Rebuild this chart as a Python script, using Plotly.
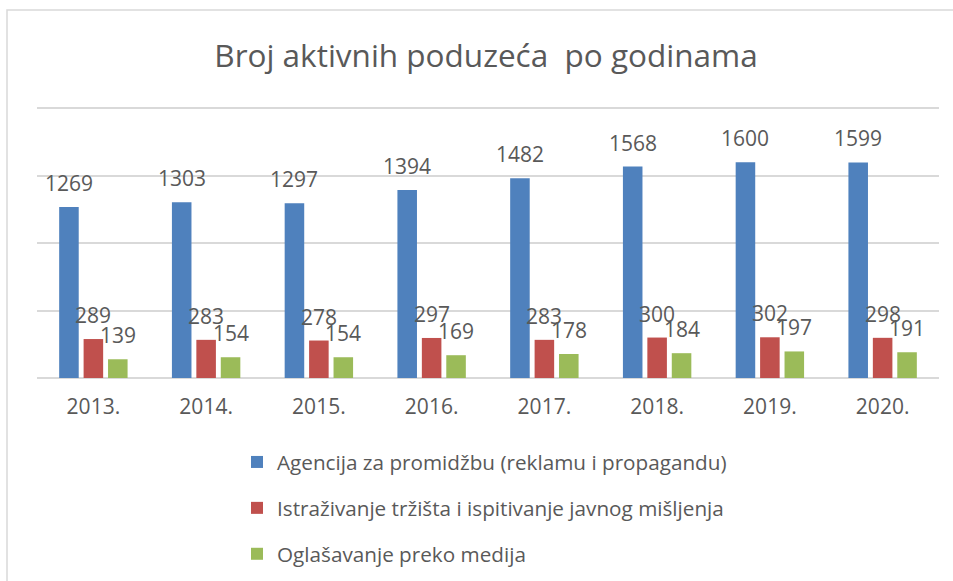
import plotly.graph_objects as go

years = ["2013.", "2014.", "2015.", "2016.", "2017.", "2018.", "2019.", "2020."]
agencije = [1269, 1303, 1297, 1394, 1482, 1568, 1600, 1599]
istrazivanje = [289, 283, 278, 297, 283, 300, 302, 298]
oglasavanje = [139, 154, 154, 169, 178, 184, 197, 191]

series_names = [
    "Agencija za promidžbu (reklamu i propagandu)",
    "Istraživanje tržišta i ispitivanje javnog mišljenja",
    "Oglašavanje preko medija",
]
series_values = [agencije, istrazivanje, oglasavanje]
colors = ["#4f81bd", "#c0504d", "#9bbb59"]

FONT = "Open Sans"
TXT = "#595959"
W, H = 953, 581
YMAX = 2010
ML, MR, MT, MB = 37, 14, 107, 203
BARGAP = 0.35
plot_w = W - ML - MR
plot_h = H - MT - MB
cat_w = plot_w / len(years)
slot = cat_w * (1 - BARGAP) / 3

fig = go.Figure()
for i, (name, vals, col) in enumerate(zip(series_names, series_values, colors)):
    fig.add_trace(go.Bar(
        x=years, y=vals, name=name, marker=dict(color=col, line=dict(width=0)),
        legendgroup=f"g{i}",
    ))

# value labels: category axis positions are serial indices of the categories
annotations = []
for i, vals in enumerate(series_values):
    for j, v in enumerate(vals):
        annotations.append(dict(
            x=j, y=v, xref="x", yref="y", text=str(v), showarrow=False,
            xanchor="center", yanchor="bottom", xshift=(i - 1) * slot, yshift=8,
            font=dict(family=FONT, size=21, color=TXT),
        ))

# chart frame
shapes = [dict(
    type="rect", xref="paper", yref="paper",
    x0=(7 - ML) / plot_w, x1=(W + 20 - ML) / plot_w,
    y0=-(MB + 20) / plot_h, y1=(H - MB - 10) / plot_h,
    line=dict(color="#d9d9d9", width=1.5), fillcolor="rgba(0,0,0,0)", layer="below",
)]

fig.update_layout(
    width=W, height=H,
    margin=dict(l=ML, r=MR, t=MT, b=MB, autoexpand=False),
    paper_bgcolor="white", plot_bgcolor="white",
    barmode="group", bargap=BARGAP, bargroupgap=0.2,
    title=dict(text="Broj aktivnih poduzeća  po godinama", x=0.51, xanchor="center",
               y=1 - 56 / H, yanchor="middle", yref="container",
               font=dict(family=FONT, size=31.5, color=TXT)),
    xaxis=dict(type="category", categoryorder="array", categoryarray=years,
               range=[-0.5, len(years) - 0.5],
               showgrid=False, showline=False, zeroline=False, ticks="",
               tickfont=dict(family=FONT, size=21, color=TXT), ticklabelstandoff=14,
               automargin=False),
    yaxis=dict(range=[0, YMAX], tick0=0, dtick=500, showticklabels=False, showgrid=True,
               gridcolor="#d9d9d9", gridwidth=1.5, zeroline=True, zerolinecolor="#d9d9d9",
               zerolinewidth=1.5, showline=False, fixedrange=True, automargin=False),
    legend=dict(orientation="v", xref="container", yref="container",
                x=237 / W, xanchor="left", y=1 - 442 / H, yanchor="top",
                font=dict(family=FONT, size=20.7, color=TXT), tracegroupgap=16,
                traceorder="grouped", bgcolor="rgba(0,0,0,0)"),
    showlegend=True,
    annotations=annotations,
    shapes=shapes,
    font=dict(family=FONT, color=TXT),
)

fig.write_html("out.html", config={"displayModeBar": False},
               post_script="document.body.style.margin='0';")
